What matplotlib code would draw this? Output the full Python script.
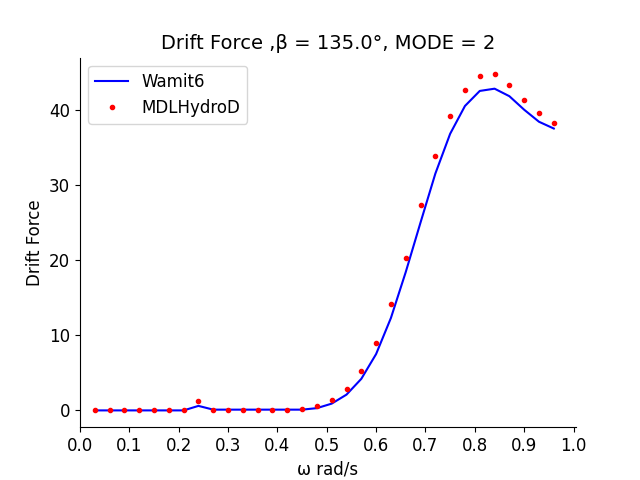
import numpy as np
import matplotlib
matplotlib.use("Agg")
import matplotlib.pyplot as plt

omega = np.round(np.arange(1, 33) * 0.03, 2)
wamit = [0, 0, 0, 0, 0, 0, 0, 0.6, 0.1, 0.1, 0.1, 0.1, 0.1, 0.1, 0.1, 0.3,
         0.9, 2.1, 4.2, 7.5, 12.3, 18.4, 25.0, 31.5, 36.8, 40.5, 42.5, 42.8,
         41.8, 40.0, 38.4, 37.5]
mdl = [0, 0, 0, 0, 0, 0, 0, 1.3, 0.1, 0, 0, 0, 0, 0, 0.2, 0.6,
       1.4, 2.9, 5.3, 9.0, 14.1, 20.3, 27.3, 33.8, 39.1, 42.6, 44.5, 44.7,
       43.3, 41.3, 39.5, 38.3]

fig, ax = plt.subplots(figsize=(6.4, 4.8), dpi=100)
ax.plot(omega, wamit, color="blue", label="Wamit6")
ax.plot(omega, mdl, ".", color="red", label="MDLHydroD")
ax.set_xticks(np.arange(0, 1.01, 0.1))
ax.set_xlim(0, 1.005)
ax.set_xlabel("ω rad/s", fontsize=12)
ax.set_ylabel("Drift Force", fontsize=12)
ax.set_title("Drift Force ,β = 135.0°, MODE = 2", fontsize=14)
ax.tick_params(labelsize=12)
ax.spines["top"].set_visible(False)
ax.spines["right"].set_visible(False)
ax.legend(loc="upper left", fontsize=12)
fig.savefig("out.png")
